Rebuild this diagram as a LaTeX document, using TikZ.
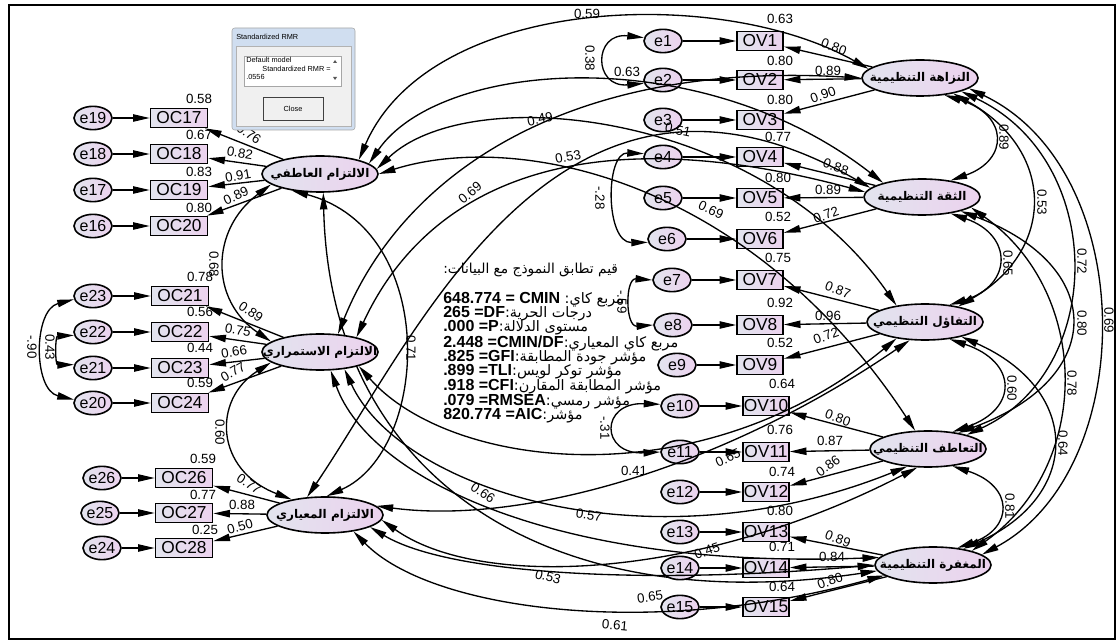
\documentclass[tikz,border=0pt]{standalone}
\usepackage{fontspec}
\setmainfont{Liberation Sans}
\newfontfamily\arabicfont[Script=Arabic]{DejaVu Sans}
\TeXXeTstate=1
\usetikzlibrary{shapes.geometric, arrows.meta, backgrounds}
\definecolor{shadeL}{RGB}{226,228,238}
\definecolor{shadeR}{RGB}{236,210,238}
\definecolor{dlgblue}{RGB}{208,222,240}
\definecolor{dlgface}{RGB}{240,240,240}
\newcommand{\artxt}[1]{{\arabicfont\beginR #1\endR}}
\newcommand{\fitar}[1]{{\mdseries\fontsize{10.8}{10.8}\selectfont\artxt{#1}}}

\begin{document}
\begin{tikzpicture}[
  x=0.75pt, y=-0.75pt,
  errnode/.style={ellipse, draw, line width=1.2pt, minimum width=28.5pt, minimum height=17.5pt, inner sep=0pt, left color=shadeL, right color=shadeR, font=\fontsize{12}{12}\selectfont},
  ocbox/.style={rectangle, draw, line width=1.2pt, minimum width=42.75pt, minimum height=14.25pt, inner sep=0pt, left color=shadeL, right color=shadeR, font=\fontsize{13}{13}\selectfont},
  ovbox/.style={ocbox, minimum width=34.5pt},
  latent/.style={ellipse, draw, line width=1.2pt, minimum width=87pt, minimum height=27pt, inner xsep=-20pt, inner ysep=-3pt, left color=shadeL, right color=shadeR, font=\bfseries\fontsize{9}{9}\selectfont},
  load/.style={-{Triangle[length=12.5pt,width=5.5pt]}, line width=1pt},
  cov/.style={{Triangle[length=12.5pt,width=5.5pt]}-{Triangle[length=12.5pt,width=5.5pt]}, line width=1pt},
  num/.style={font=\fontsize{10}{10}\selectfont, inner sep=0pt},
  fitline/.style={anchor=west, inner sep=0pt, font=\bfseries\fontsize{12}{12}\selectfont},
  dlgtext/.style={inner sep=0pt, font=\fontsize{5.5}{6.4}\selectfont}
]
\useasboundingbox (0,0) rectangle (1117,641);
\draw[line width=2pt] (9,5) rectangle (1115,639);

% left indicators
\node[errnode] (e19) at (93,118) {e19};
\node[ocbox] (OC17) at (179,118) {OC17};
\node[errnode] (e18) at (93,154) {e18};
\node[ocbox] (OC18) at (179,154) {OC18};
\node[errnode] (e17) at (93,190) {e17};
\node[ocbox] (OC19) at (179,190) {OC19};
\node[errnode] (e16) at (93,226) {e16};
\node[ocbox] (OC20) at (179,226) {OC20};
\node[errnode] (e23) at (93,296) {e23};
\node[ocbox] (OC21) at (180,296) {OC21};
\node[errnode] (e22) at (93,332) {e22};
\node[ocbox] (OC22) at (180,332) {OC22};
\node[errnode] (e21) at (93,368) {e21};
\node[ocbox] (OC23) at (180,368) {OC23};
\node[errnode] (e20) at (93,403) {e20};
\node[ocbox] (OC24) at (180,403) {OC24};
\node[errnode] (e26) at (102,478) {e26};
\node[ocbox] (OC26) at (184,478) {OC26};
\node[errnode] (e25) at (100,513) {e25};
\node[ocbox] (OC27) at (184,513) {OC27};
\node[errnode] (e24) at (102,548) {e24};
\node[ocbox] (OC28) at (184,548) {OC28};

% left latents
\node[latent] (Laff) at (320,174) {\artxt{الالتزام العاطفي}};
\node[latent] (Lcon) at (320,352) {\artxt{الالتزام الاستمراري}};
\node[latent] (Lnor) at (325,515) {\artxt{الالتزام المعياري}};

% right indicators
\node[errnode] (e1) at (663,41) {e1};
\node[ovbox] (OV1) at (760,41) {OV1};
\node[errnode] (e2) at (663,80) {e2};
\node[ovbox] (OV2) at (760,80) {OV2};
\node[errnode] (e3) at (663,120) {e3};
\node[ovbox] (OV3) at (760,120) {OV3};
\node[errnode] (e4) at (663,157) {e4};
\node[ovbox] (OV4) at (760,157) {OV4};
\node[errnode] (e5) at (663,198) {e5};
\node[ovbox] (OV5) at (760,198) {OV5};
\node[errnode] (e6) at (667,239) {e6};
\node[ovbox] (OV6) at (760,239) {OV6};
\node[errnode] (e7) at (672,280) {e7};
\node[ovbox] (OV7) at (760,280) {OV7};
\node[errnode] (e8) at (673,325) {e8};
\node[ovbox] (OV8) at (760,325) {OV8};
\node[errnode] (e9) at (677,365) {e9};
\node[ovbox] (OV9) at (760,365) {OV9};
\node[errnode] (e10) at (680,406) {e10};
\node[ovbox] (OV10) at (766,406) {OV10};
\node[errnode] (e11) at (680,452) {e11};
\node[ovbox] (OV11) at (766,452) {OV11};
\node[errnode] (e12) at (680,492) {e12};
\node[ovbox] (OV12) at (766,492) {OV12};
\node[errnode] (e13) at (680,532) {e13};
\node[ovbox] (OV13) at (766,532) {OV13};
\node[errnode] (e14) at (680,568) {e14};
\node[ovbox] (OV14) at (766,568) {OV14};
\node[errnode] (e15) at (680,607) {e15};
\node[ovbox] (OV15) at (766,607) {OV15};

% right latents
\node[latent] (Rint) at (920,78) {\artxt{النزاهة التنظيمية}};
\node[latent] (Rtru) at (922,197) {\artxt{الثقة التنظيمية}};
\node[latent] (Ropt) at (925,322) {\artxt{التفاؤل التنظيمي}};
\node[latent] (Remp) at (928,449) {\artxt{التعاطف التنظيمي}};
\node[latent] (Rfor) at (933,565) {\artxt{المغفرة التنظيمية}};

% error terms
\foreach \e/\o in {e19/OC17, e18/OC18, e17/OC19, e16/OC20, e23/OC21, e22/OC22, e21/OC23, e20/OC24, e26/OC26, e25/OC27, e24/OC28,
  e1/OV1, e2/OV2, e3/OV3, e4/OV4, e5/OV5, e6/OV6, e7/OV7, e8/OV8, e9/OV9, e10/OV10, e11/OV11, e12/OV12, e13/OV13, e14/OV14, e15/OV15}
  \draw[load] (\e) -- (\o);

% loadings
\foreach \l/\o in {Laff/OC17, Laff/OC18, Laff/OC19, Laff/OC20, Lcon/OC21, Lcon/OC22, Lcon/OC23, Lcon/OC24, Lnor/OC26, Lnor/OC27, Lnor/OC28,
  Rint/OV1, Rint/OV2, Rint/OV3, Rtru/OV4, Rtru/OV5, Rtru/OV6, Ropt/OV7, Ropt/OV8, Ropt/OV9, Remp/OV10, Remp/OV11, Remp/OV12, Rfor/OV13, Rfor/OV14, Rfor/OV15}
  \draw[load] (\l) -- (\o);

% error covariances
\draw[cov] (e23.190) .. controls (33,310) and (33,390) .. (e20.170);
\draw[cov] (e22.190) .. controls (55,336) and (55,365) .. (e21.170);
\draw[cov] (e1.170) .. controls (593,32) and (593,88) .. (e2.190);
\draw[cov] (e4.170) .. controls (605,152) and (605,243) .. (e6.190);
\draw[cov] (e7.180) .. controls (625,278) and (625,327) .. (e8.180);
\draw[cov] (e10.175) .. controls (600,402) and (600,455) .. (e11.180);

% covariances among left latents
\draw[cov] (Laff.-168) .. controls (210,230) and (210,300) .. (Lcon.168);
\draw[cov] (Lcon.-168) .. controls (212,400) and (215,470) .. (Lnor.155);
\draw[cov] (Laff.-150) .. controls (440,230) and (430,450) .. (Lnor.85);

% covariances among right latents
\draw[cov] (Rint.-35) .. controls (1009,115) and (1009,160) .. (Rtru.30);
\draw[cov] (Rint.-25) .. controls (1056,150) and (1056,250) .. (Ropt.25);
\draw[cov] (Rint.-18) .. controls (1107,160) and (1107,370) .. (Remp.20);
\draw[cov] (Rint.-12) .. controls (1140,170) and (1140,470) .. (Rfor.12);
\draw[cov] (Rtru.-30) .. controls (1013,235) and (1013,285) .. (Ropt.35);
\draw[cov] (Rtru.-20) .. controls (1107,266) and (1107,378) .. (Remp.28);
\draw[cov] (Rtru.-12) .. controls (1092,293) and (1092,466) .. (Rfor.20);
\draw[cov] (Ropt.-35) .. controls (1018,362) and (1018,409) .. (Remp.35);
\draw[cov] (Ropt.-22) .. controls (1082,390) and (1082,496) .. (Rfor.28);
\draw[cov] (Remp.-35) .. controls (1014,486) and (1014,528) .. (Rfor.35);

% covariances left - right
\draw[cov] (Laff.20) .. controls (430,-5) and (720,-15) .. (Rint.170);
\draw[cov] (Laff.12) .. controls (440,60) and (700,40) .. (Rtru.160);
\draw[cov] (Laff.5) .. controls (470,80) and (760,110) .. (Ropt.150);
\draw[cov] (Laff.0) .. controls (520,130) and (750,180) .. (Remp.125);
\begin{scope}[on background layer]
\draw[cov] (Laff.-80) .. controls (330,480) and (550,620) .. (Rfor.186);
\end{scope}
\draw[cov] (Lcon.45) .. controls (400,180) and (560,60) .. (Rint.180);
\draw[cov] (Lcon.22) .. controls (420,200) and (560,110) .. (Rtru.175);
\draw[cov] (Lcon.-20) .. controls (450,470) and (700,500) .. (Ropt.-150);
\draw[cov] (Lcon.-35) .. controls (400,490) and (650,570) .. (Remp.-140);
\draw[cov] (Lcon.-60) .. controls (370,480) and (560,570) .. (Rfor.172);
\draw[cov] (Lnor.135) .. controls (420,330) and (560,10) .. (Rtru.170);
\draw[cov] (Lnor.10) .. controls (520,525) and (720,470) .. (Ropt.-130);
\draw[cov] (Lnor.-5) .. controls (480,590) and (700,580) .. (Remp.-120);
\draw[cov] (Lnor.-15) .. controls (450,575) and (650,585) .. (Rfor.180);
\draw[cov] (Lnor.-30) .. controls (430,610) and (650,640) .. (Rfor.192);

% squared multiple correlations
\node[num] (r17) at (199,99) {0.58};
\node[num] (r18) at (199,135) {0.67};
\node[num] (r19) at (199,172) {0.83};
\node[num] (r20) at (199,208) {0.80};
\node[num] (r21) at (200,277) {0.78};
\node[num] (r22) at (200,312) {0.56};
\node[num] (r23) at (200,348) {0.44};
\node[num] (r24) at (200,383) {0.59};
\node[num] (r26) at (203,459) {0.59};
\node[num] (r27) at (203,495) {0.77};
\node[num] (r28) at (205,530) {0.25};
\node[num] (s1) at (780,19) {0.63};
\node[num] (s2) at (780,61) {0.80};
\node[num] (s3) at (780,100) {0.80};
\node[num] (s4) at (778,137) {0.77};
\node[num] (s5) at (778,178) {0.80};
\node[num] (s6) at (778,217) {0.52};
\node[num] (s7) at (778,258) {0.75};
\node[num] (s8) at (780,303) {0.92};
\node[num] (s9) at (780,343) {0.52};
\node[num] (s10) at (782,384) {0.64};
\node[num] (s11) at (780,430) {0.76};
\node[num] (s12) at (782,472) {0.74};
\node[num] (s13) at (780,511) {0.80};
\node[num] (s14) at (782,547) {0.71};
\node[num] (s15) at (782,587) {0.64};

% loading values
\node[num, rotate=-35] (w17) at (249,134) {0.76};
\node[num, rotate=-10] (w18) at (240,153) {0.82};
\node[num, rotate=10] (w19) at (238,176) {0.91};
\node[num, rotate=25] (w20) at (236,196) {0.89};
\node[num, rotate=-35] (w21) at (251,312) {0.89};
\node[num, rotate=-10] (w22) at (238,330) {0.75};
\node[num, rotate=10] (w23) at (234,352) {0.66};
\node[num, rotate=30] (w24) at (233,372) {0.77};
\node[num, rotate=-35] (w26) at (249,484) {0.77};
\node[num] (w27) at (242,505) {0.88};
\node[num, rotate=15] (w28) at (240,527) {0.50};
\node[num, rotate=-20] (v1) at (834,47) {0.80};
\node[num] (v2) at (828,71) {0.89};
\node[num, rotate=20] (v3) at (823,95) {0.90};
\node[num, rotate=-20] (v4) at (836,167) {0.88};
\node[num] (v5) at (828,190) {0.89};
\node[num, rotate=20] (v6) at (826,215) {0.72};
\node[num, rotate=-20] (v7) at (838,290) {0.87};
\node[num] (v8) at (828,316) {0.96};
\node[num, rotate=20] (v9) at (826,336) {0.72};
\node[num, rotate=-20] (v10) at (838,418) {0.80};
\node[num] (v11) at (830,441) {0.87};
\node[num, rotate=35] (v12) at (828,466) {0.86};
\node[num, rotate=-20] (v13) at (838,539) {0.89};
\node[num] (v14) at (832,557) {0.84};
\node[num, rotate=20] (v15) at (830,581) {0.80};

% covariance values
\node[num, rotate=-90] (c68) at (214,264) {0.68};
\node[num, rotate=-90] (c60) at (220,432) {0.60};
\node[num, rotate=-90] (c71) at (411,348) {0.71};
\node[num, rotate=-90] (c90) at (32,347) {-.90};
\node[num, rotate=-90] (c43) at (50,347) {0.43};
\node[num, rotate=-90] (c38) at (590,58) {0.38};
\node[num, rotate=-90] (c28) at (600,198) {-.28};
\node[num, rotate=-90] (c59) at (622,302) {-.59};
\node[num, rotate=-90] (c31) at (605,428) {-.31};
\node[num, rotate=-90] (k89) at (1004,137) {0.89};
\node[num, rotate=-90] (k53) at (1042,202) {0.53};
\node[num, rotate=-90] (k65) at (1008,263) {0.65};
\node[num, rotate=-90] (k72) at (1082,261) {0.72};
\node[num, rotate=-90] (k80) at (1082,323) {0.80};
\node[num, rotate=-90] (k69) at (1109,320) {0.69};
\node[num, rotate=-90] (k60) at (1012,388) {0.60};
\node[num, rotate=-90] (k78) at (1072,383) {0.78};
\node[num, rotate=-90] (k64) at (1063,443) {0.64};
\node[num, rotate=-90] (k81) at (1010,506) {0.81};
\node[num] (x59) at (587,14) {0.59};
\node[num] (x63) at (627,72) {0.63};
\node[num, rotate=12] (x49) at (540,119) {0.49};
\node[num, rotate=-12] (x51) at (678,130) {0.51};
\node[num, rotate=10] (x53) at (568,157) {0.53};
\node[num, rotate=40] (x69) at (470,193) {0.69};
\node[num, rotate=-25] (x69b) at (711,210) {0.69};
\node[num] (x41) at (634,471) {0.41};
\node[num, rotate=25] (x65) at (728,458) {0.65};
\node[num, rotate=-35] (x66) at (483,493) {0.66};
\node[num, rotate=-10] (x57) at (589,515) {0.57};
\node[num, rotate=20] (x45) at (707,551) {0.45};
\node[num, rotate=-15] (x53b) at (548,577) {0.53};
\node[num, rotate=8] (x65b) at (650,597) {0.65};
\node[num, rotate=-5] (x61) at (615,625) {0.61};

% fit indices
\node[fitline] (fit0) at (443,270) {{\mdseries\fontsize{10.3}{10.3}\selectfont\artxt{قيم تطابق النموذج مع البيانات:}}};
\node[fitline] (fit1) at (443,300) {648.774 = CMIN \fitar{مربع كاي:}};
\node[fitline] (fit2) at (443,314) {265 =DF\fitar{درجات الحرية:}};
\node[fitline] (fit3) at (443,328) {.000 =P\fitar{مستوى الدلالة:}};
\node[fitline] (fit4) at (443,343) {2.448 =CMIN/DF\fitar{مربع كاي المعياري:}};
\node[fitline] (fit5) at (443,358) {.825 =GFI\fitar{مؤشر جودة المطابقة:}};
\node[fitline] (fit6) at (443,372) {.899 =TLI\fitar{مؤشر توكر لويس:}};
\node[fitline] (fit7) at (443,387) {.918 =CFI\fitar{مؤشر المطابقة المقارن:}};
\node[fitline] (fit8) at (443,402) {.079 =RMSEA\fitar{مؤشر رمسي:}};
\node[fitline] (fit9) at (443,416) {820.774 =AIC\fitar{مؤشر:}};

% Standardized RMR window
\draw[gray!70, fill=dlgblue, rounded corners=2pt] (232,28) rectangle (355,130);
\draw[gray!60, fill=dlgface] (236,46) rectangle (351,126);
\draw[gray!70, fill=white] (244,56) rectangle (341,86);
\fill[gray!70!black] (333,63) -- (337,63) -- (335,60) -- cycle;
\fill[gray!70!black] (333,77) -- (337,77) -- (335,80) -- cycle;
\draw[gray!50!black, fill=gray!12] (263,97) rectangle (323,120);
\node[dlgtext, anchor=west] (dlgtitle) at (236,37) {Standardized RMR};
\node[dlgtext, anchor=north west, align=left] (dlgfield) at (246,57) {Default model\\\hspace{2.2em}Standardized RMR =\\.0556};
\node[dlgtext] (dlgclose) at (293,108.5) {Close};
\end{tikzpicture}
\end{document}
